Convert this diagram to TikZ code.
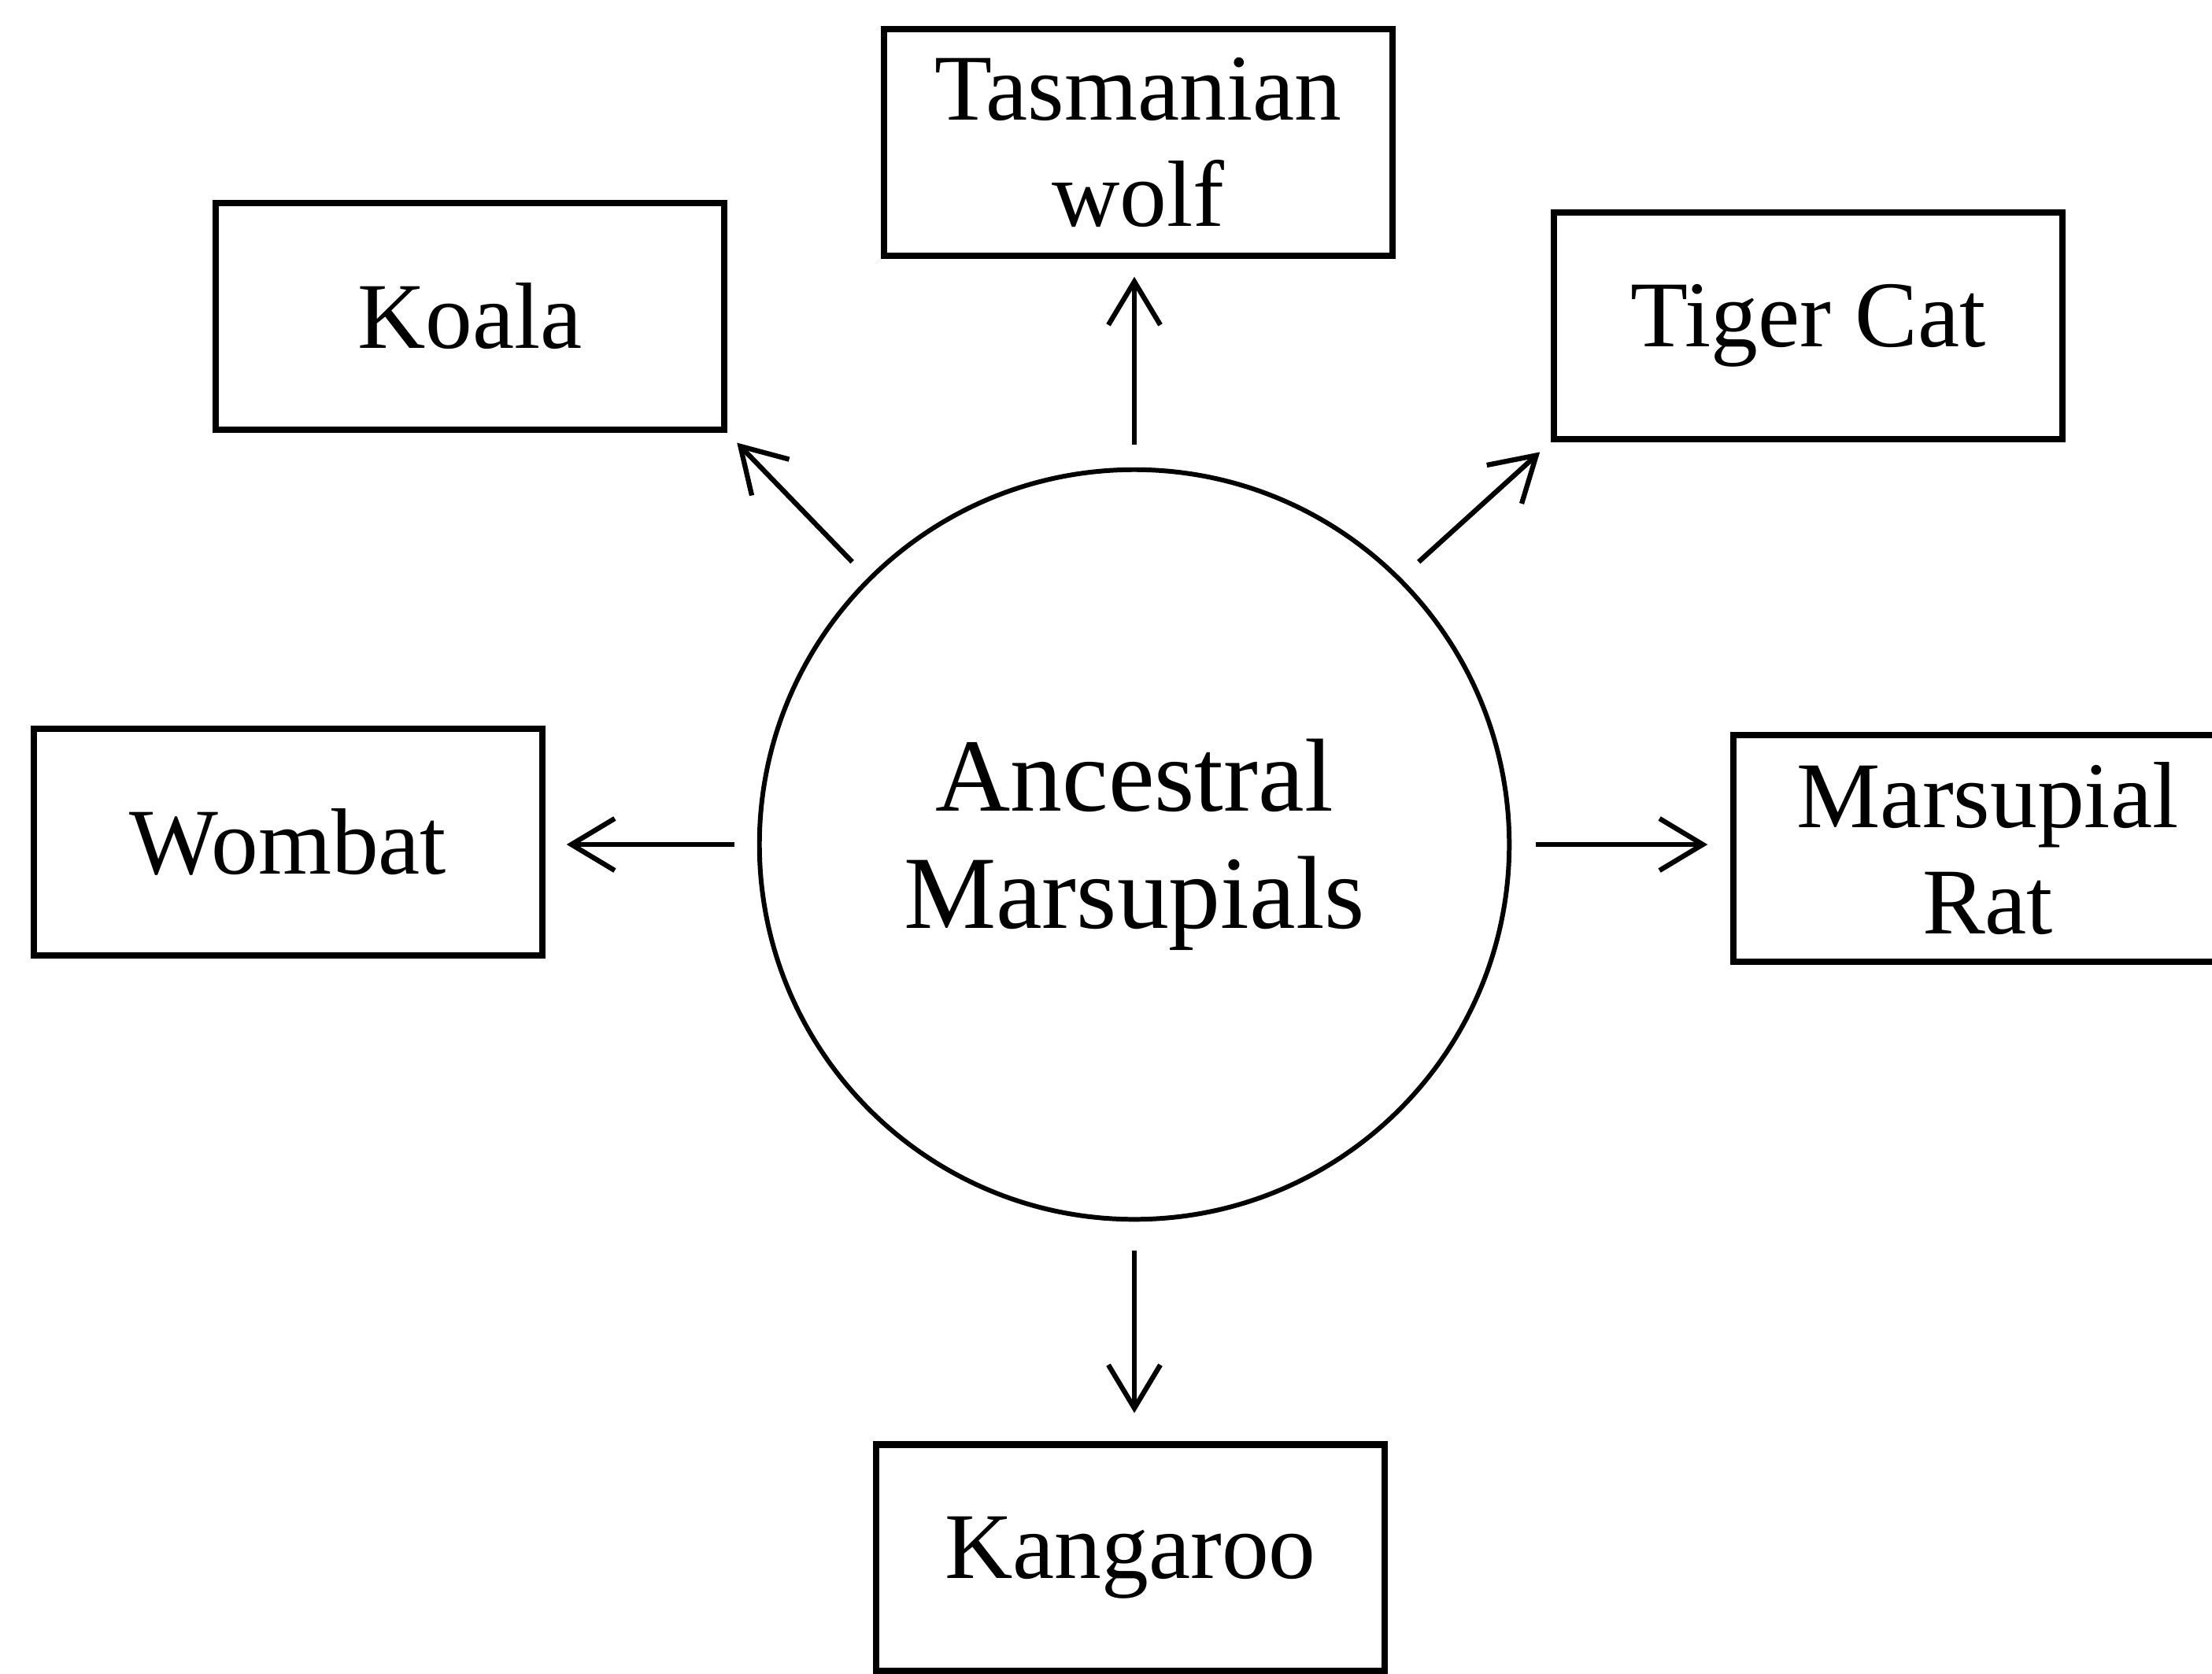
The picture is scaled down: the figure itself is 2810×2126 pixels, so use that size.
\documentclass[tikz,border=0pt]{standalone}
\usepackage{fontspec}
\setmainfont{Liberation Serif}
\usetikzlibrary{arrows.meta}

\tikzset{
  animal/.style={draw, line width=2.3pt, minimum width=6.45cm, minimum height=2.87cm,
    inner sep=0pt, align=center, font=\fontsize{34}{38.5}\selectfont},
  origin/.style={draw, circle, line width=1.7pt, minimum size=9.52cm, inner sep=0pt,
    align=center, font=\fontsize{37.5}{42.5}\selectfont},
  branch/.style={line width=1.8pt, -{Straight Barb[length=0.55cm, width=0.66cm, line width=1.8pt]}}
}

\begin{document}
\begin{tikzpicture}[x=0.01cm, y=-0.01cm]
  % page frame (pixel grid, y downwards)
  \useasboundingbox (0,0) rectangle (2810,2126);
  \clip (0,0) rectangle (2810,2126);

  % centre
  \node[origin] (c) at (1441,1073) {Ancestral\\Marsupials};

  % descendants
  \node[animal] (tw)   at (1446,181)  {Tasmanian\\wolf};
  \node[animal] (ko)   at (597,402)   {Koala};
  \node[animal] (tc)   at (2297,414)  {Tiger Cat};
  \node[animal] (wo)   at (366,1070)  {Wombat};
  \node[animal] (mr)   at (2525,1078) {Marsupial\\Rat};
  \node[animal] (ka)   at (1436,1979) {Kangaroo};

  % radiation arrows
  \draw[branch, shorten <=0.29cm, shorten >=0.23cm] (c.north) -- (c.north |- tw.south);
  \draw[branch, shorten <=0.28cm, shorten >=0.18cm] (c.135) -- (ko.south east);
  \draw[branch, shorten <=0.30cm, shorten >=0.19cm] (c.45) -- (tc.south west);
  \draw[branch, shorten <=0.29cm, shorten >=0.27cm] (c.west) -- (c.west -| wo.east);
  \draw[branch, shorten <=0.31cm, shorten >=0.29cm] (c.east) -- (c.east -| mr.west);
  \draw[branch, shorten <=0.37cm, shorten >=0.36cm] (c.south) -- (c.south |- ka.north);
\end{tikzpicture}
\end{document}
